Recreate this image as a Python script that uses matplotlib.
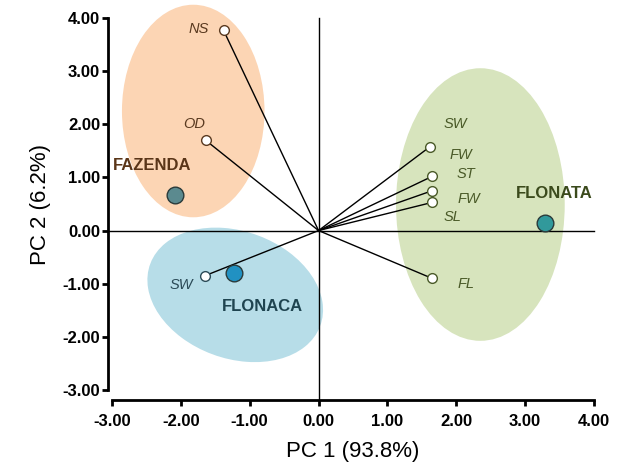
import matplotlib
matplotlib.use("Agg")
import matplotlib.pyplot as plt
from matplotlib.patches import Ellipse

plt.rcParams['font.family'] = ['Liberation Sans', 'DejaVu Sans']

# loadings (variables)
var_names = ["NS", "OD", "SW", "SW", "ST", "FW", "SL", "FL"]
var_x = [-1.38, -1.64, -1.65, 1.62, 1.65, 1.65, 1.65, 1.65]
var_y = [3.77, 1.70, -0.85, 1.58, 1.02, 0.75, 0.53, -0.90]
var_group = [0, 0, 1, 2, 2, 2, 2, 2]

# label positions of the variables (right group labels are a bit scrambled in the original)
lab_names = ["NS", "OD", "SW", "SW", "FW", "ST", "FW", "SL", "FL"]
lab_x = [-1.74, -1.81, -1.99, 1.99, 2.06, 2.14, 2.19, 1.94, 2.14]
lab_y = [3.79, 2.00, -1.02, 2.00, 1.42, 1.06, 0.60, 0.25, -1.00]
lab_group = [0, 0, 1, 2, 2, 2, 2, 2, 2]

# scores (sites)
site_names = ["FAZENDA", "FLONACA", "FLONATA"]
site_x = [-2.09, -1.23, 3.29]
site_y = [0.66, -0.79, 0.15]
site_lab_x = [-2.41, -0.81, 3.43]
site_lab_y = [1.23, -1.42, 0.70]

# confidence ellipses: center, width, height, angle
ell_cx = [-1.82, -1.21, 2.35]
ell_cy = [2.25, -1.21, 0.49]
ell_w = [2.07, 2.81, 2.45]
ell_h = [4.00, 2.24, 5.13]
ell_ang = [0, -44, 0]

ell_colors = ["#fcd5b4", "#b7dde8", "#d7e4bd"]
site_colors = ["#5b8a8f", "#2191c2", "#31999b"]
text_colors = ["#5a3518", "#1f4450", "#3b4a1c"]
var_text_colors = ["#5a3a20", "#2b4a57", "#4a5a28"]

fig = plt.figure(figsize=(6.21, 4.68), dpi=100)
ax = fig.add_axes([0.1803, 0.1667, 0.9565 - 0.1803, 0.9615 - 0.1667])

# spines first: set_position resets the tick objects
ax.spines['top'].set_visible(False)
ax.spines['right'].set_visible(False)
ax.spines['left'].set_position(('outward', 3))
ax.spines['bottom'].set_position(('outward', 7))
ax.spines['left'].set_linewidth(2)
ax.spines['bottom'].set_linewidth(2)
ax.patch.set_visible(False)

for i in range(3):
    e = Ellipse((ell_cx[i], ell_cy[i]), ell_w[i], ell_h[i], angle=ell_ang[i],
                facecolor=ell_colors[i], edgecolor='none', zorder=1, clip_on=False)
    ax.add_patch(e)

# reference lines through origin
ax.plot([-3.06, 4.0], [0, 0], color='black', lw=1.0, zorder=2, clip_on=False)
ax.plot([0, 0], [4.0, -3.17], color='black', lw=1.0, zorder=2, clip_on=False)

for i in range(len(var_x)):
    ax.plot([0, var_x[i]], [0, var_y[i]], color='black', lw=1.0, zorder=3)
    ax.plot(var_x[i], var_y[i], 'o', ms=7, mfc='white',
            mec=var_text_colors[var_group[i]], mew=1.0, zorder=4)

for i in range(len(lab_names)):
    ax.text(lab_x[i], lab_y[i], lab_names[i], fontsize=10.5, style='italic',
            color=var_text_colors[lab_group[i]], ha='center', va='center', zorder=5)

for i in range(3):
    ax.plot(site_x[i], site_y[i], 'o', ms=12, mfc=site_colors[i],
            mec='#2a3a3a', mew=1.0, zorder=5)
    ax.text(site_lab_x[i], site_lab_y[i], site_names[i], fontsize=12,
            fontweight='bold', color=text_colors[i], ha='center', va='center', zorder=6)

ax.set_xlim(-3, 4)
ax.set_ylim(-3, 4)
ax.spines['left'].set_bounds(-3, 4)
ax.spines['bottom'].set_bounds(-3, 4)
ticks = [-3, -2, -1, 0, 1, 2, 3, 4]
ax.set_xticks(ticks)
ax.set_yticks(ticks)
ax.set_xticklabels([f"{t:.2f}" for t in ticks], fontweight='bold', fontsize=12)
ax.set_yticklabels([f"{t:.2f}" for t in ticks], fontweight='bold', fontsize=12)
ax.tick_params(width=2, length=4)
ax.tick_params(axis='x', pad=6)
ax.tick_params(axis='y', pad=1.5)

ax.set_xlabel("PC 1 (93.8%)", fontsize=16, labelpad=9)
ax.set_ylabel("PC 2 (6.2%)", fontsize=16, labelpad=8)

plt.savefig("out.png", dpi=100)
plt.close(fig)
